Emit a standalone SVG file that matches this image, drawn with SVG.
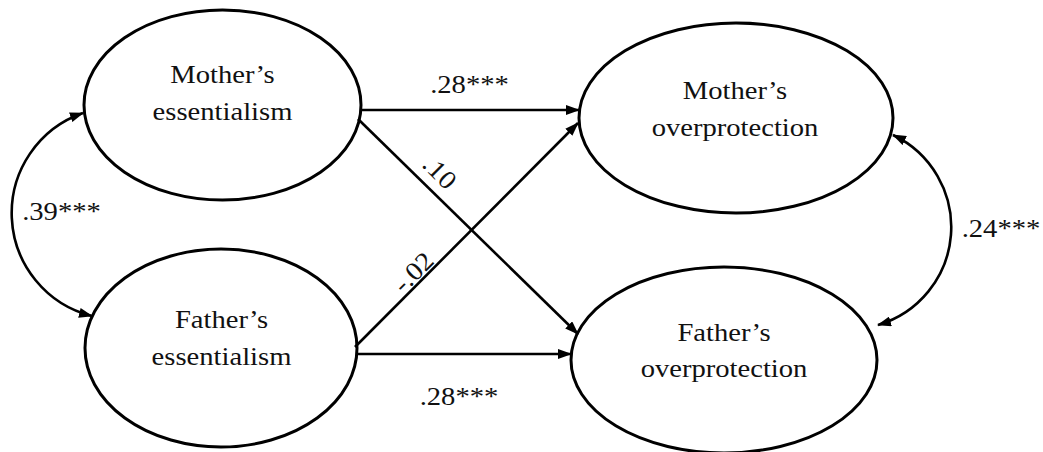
<svg xmlns="http://www.w3.org/2000/svg" width="1043" height="452" viewBox="0 0 1043 452">
<style>
.node ellipse{fill:#fff;stroke:#000;stroke-width:3}
.lbl{font-family:"Liberation Serif","Times New Roman",serif;font-size:26px;fill:#111;text-anchor:middle}
.conn path{fill:none;stroke:#000;stroke-width:2.6}
</style>
<defs>
<marker id="ah" markerUnits="userSpaceOnUse" viewBox="0 0 14 10" refX="13" refY="5" markerWidth="14" markerHeight="10" orient="auto-start-reverse">
<path d="M0,0 L14,5 L0,10 z" fill="#000"/>
</marker>
</defs>
<rect width="1043" height="452" fill="#fff"/>
<g id="mother-essentialism" class="node">
<ellipse cx="222.5" cy="105" rx="138.5" ry="95"/>
<text class="lbl" transform="translate(222.5,83) scale(1.1,1)">Mother’s</text>
<text class="lbl" transform="translate(222.5,120) scale(1.1,1)">essentialism</text>
</g>
<g id="father-essentialism" class="node">
<ellipse cx="221" cy="348" rx="136" ry="99"/>
<text class="lbl" transform="translate(221.5,328) scale(1.1,1)">Father’s</text>
<text class="lbl" transform="translate(221.5,365) scale(1.1,1)">essentialism</text>
</g>
<g id="mother-overprotection" class="node">
<ellipse cx="736" cy="118" rx="157" ry="95"/>
<text class="lbl" transform="translate(735,99) scale(1.1,1)">Mother’s</text>
<text class="lbl" transform="translate(735,136) scale(1.1,1)">overprotection</text>
</g>
<g id="father-overprotection" class="node">
<ellipse cx="724" cy="360" rx="153" ry="93"/>
<text class="lbl" transform="translate(724,341) scale(1.1,1)">Father’s</text>
<text class="lbl" transform="translate(724,377) scale(1.1,1)">overprotection</text>
</g>
<g id="connectors" class="conn">
<path d="M361,110 L579,110" marker-end="url(#ah)"/>
<path d="M358,119 L578,334" marker-end="url(#ah)"/>
<path d="M355,347 L578,123" marker-end="url(#ah)"/>
<path d="M357,354 L571,354" marker-end="url(#ah)"/>
<path d="M83,113 A106,106 0 0 0 92,316" marker-start="url(#ah)" marker-end="url(#ah)"/>
<path d="M893,135 A102,102 0 0 1 878,325" marker-start="url(#ah)" marker-end="url(#ah)"/>
</g>
<g id="labels">
<text class="lbl" transform="translate(469.5,93) scale(1.1,1)">.28***</text>
<text class="lbl" transform="translate(459,405) scale(1.1,1)">.28***</text>
<text class="lbl" transform="translate(61.5,220) scale(1.1,1)">.39***</text>
<text class="lbl" transform="translate(1001,237) scale(1.1,1)">.24***</text>
<text class="lbl" transform="translate(440,172) rotate(45) scale(1.1,1)" y="9">.10</text>
<text class="lbl" transform="translate(413,272) rotate(-45) scale(1.1,1)" y="9">-.02</text>
</g>
</svg>
